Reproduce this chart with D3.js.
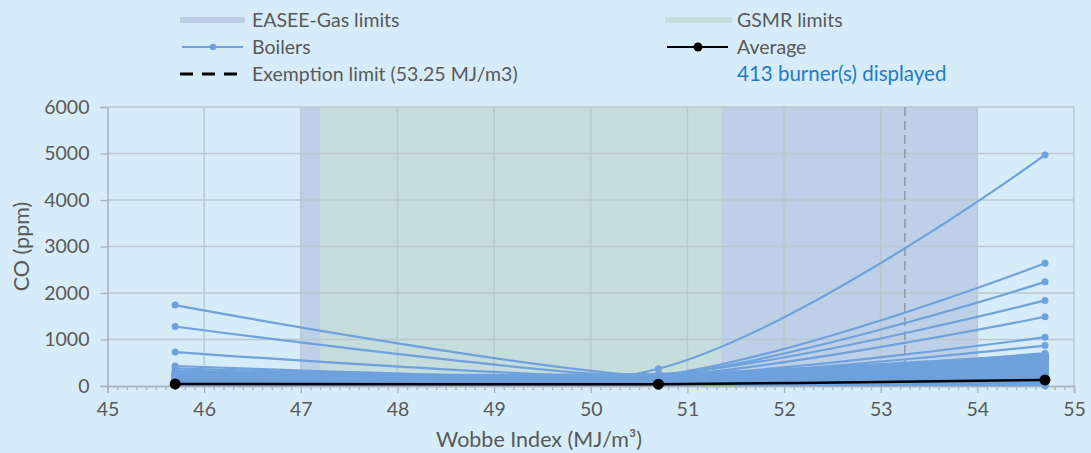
<!DOCTYPE html>
<html>
<head>
<meta charset="utf-8">
<script src="https://cdn.jsdelivr.net/npm/d3@7"></script>
<style>
  html, body { margin: 0; padding: 0; background: #d6ecf8; }
  svg { display: block; font-family: Lato, "Open Sans", sans-serif; }
</style>
</head>
<body>
<svg id="chart" width="1091" height="453"></svg>
<script>
// Wobbe index test points (MJ/m³)
const wobbePoints = [45.7, 50.7, 54.7];

// CO emissions per boiler at each test point (ppm)
const boilerCO = [
  [1740, 190, 560], [1280, 170, 470], [730, 160, 400], [430, 150, 330],
  [380, 140, 300], [330, 130, 280], [60, 370, 4970], [120, 220, 2640],
  [90, 210, 2240], [150, 230, 1840], [100, 200, 1490], [80, 190, 1050],
  [70, 180, 870], [110, 200, 700], [290, 160, 680], [270, 150, 665],
  [250, 140, 650], [240, 135, 640], [230, 130, 625], [220, 125, 610],
  [210, 120, 600], [200, 115, 585], [190, 110, 570], [180, 105, 555],
  [170, 100, 540], [160, 95, 520], [150, 90, 505], [140, 85, 490],
  [130, 80, 470], [120, 75, 455], [110, 70, 440], [100, 65, 420],
  [95, 60, 400], [90, 56, 385], [85, 52, 365], [80, 48, 345],
  [75, 45, 330], [70, 42, 310], [65, 38, 290], [60, 35, 270],
  [55, 33, 250], [50, 30, 235], [45, 28, 215], [40, 25, 195],
  [35, 22, 175], [30, 20, 160], [25, 18, 140], [20, 15, 120],
  [15, 12, 100], [12, 10, 80], [10, 8, 60], [8, 6, 40],
  [5, 4, 20], [3, 2, 5], [260, 240, 340], [210, 250, 380],
  [180, 230, 500], [140, 240, 560], [300, 210, 620], [120, 220, 660],
  [200, 250, 690], [160, 260, 600], [240, 230, 450]
];

// Average CO across all boilers (ppm)
const averageCO = [45, 40, 130];

// Regulatory Wobbe ranges (MJ/m³)
const easeeLimits = [47.0, 54.0];
const gsmrLimits = [47.2, 51.35];
const exemptionLimit = 53.25;

const xTicks = [45, 46, 47, 48, 49, 50, 51, 52, 53, 54, 55];
const yTicks = [0, 1000, 2000, 3000, 4000, 5000, 6000];

const svg = d3.select("#chart");
const x = d3.scaleLinear().domain([45, 55]).range([107.5, 1074]);
const y = d3.scaleLinear().domain([0, 6000]).range([386, 107]);

const textColor = "#595959";
const gridColor = "#bcc8cf";
const boilerColor = "#6fa1dc";
const fontFamily = "Lato, 'Open Sans', sans-serif";

// Plot-area clip so smoothed curves stay inside the axes
svg.append("defs").append("clipPath").attr("id", "plot-clip")
  .append("rect")
  .attr("x", x(45)).attr("y", y(6000) - 6)
  .attr("width", x(55) - x(45) + 6)
  .attr("height", y(0) - y(6000) + 6);

// Limit bands
svg.append("rect")
  .attr("x", x(easeeLimits[0])).attr("y", y(6000))
  .attr("width", x(easeeLimits[1]) - x(easeeLimits[0]))
  .attr("height", y(0) - y(6000))
  .attr("fill", "#bdd0e7");
svg.append("rect")
  .attr("x", x(gsmrLimits[0])).attr("y", y(6000))
  .attr("width", x(gsmrLimits[1]) - x(gsmrLimits[0]))
  .attr("height", y(0) - y(6000))
  .attr("fill", "#c5dddd");

// Gridlines
const grid = svg.append("g");
grid.selectAll("line.h").data(yTicks.slice(1)).join("line")
  .attr("x1", x(45)).attr("x2", x(55))
  .attr("y1", d => y(d)).attr("y2", d => y(d))
  .attr("stroke", gridColor).attr("stroke-width", 1.5);
grid.selectAll("line.v").data(xTicks.slice(1)).join("line")
  .attr("x1", d => x(d)).attr("x2", d => x(d))
  .attr("y1", y(6000)).attr("y2", y(0))
  .attr("stroke", gridColor).attr("stroke-width", 1.5);

// Exemption limit
svg.append("line")
  .attr("x1", x(exemptionLimit)).attr("x2", x(exemptionLimit))
  .attr("y1", y(6000)).attr("y2", y(0))
  .attr("stroke", "#8d99a6").attr("stroke-width", 1.5)
  .attr("stroke-dasharray", "9,5");

// Axes
const minorTicks = d3.range(451, 550).map(v => v / 10)
  .filter(v => Math.abs(v - Math.round(v)) > 1e-6);
const xAxis = svg.append("g").attr("transform", `translate(0,${y(0)})`)
  .call(d3.axisBottom(x).tickValues(xTicks).tickSize(7).tickPadding(9).tickFormat(d3.format("d")));
const xMinor = svg.append("g").attr("transform", `translate(0,${y(0)})`)
  .call(d3.axisBottom(x).tickValues(minorTicks).tickSize(4).tickFormat(""));
const yAxis = svg.append("g").attr("transform", `translate(${x(45)},0)`)
  .call(d3.axisLeft(y).tickValues(yTicks).tickSize(7).tickPadding(8).tickFormat(d3.format("d")));

[xAxis, xMinor, yAxis].forEach(g => {
  g.select(".domain").attr("stroke", "#a9b3ba").attr("stroke-width", 1.5);
  g.selectAll(".tick line").attr("stroke", "#a9b3ba").attr("stroke-width", 1.3);
  g.selectAll("text").attr("fill", textColor).attr("font-size", 19.5)
    .attr("font-family", fontFamily);
});
yAxis.selectAll("text").attr("dx", -3);

// Boiler curves
const line = d3.line()
  .x((d, i) => x(wobbePoints[i]))
  .y(d => y(d))
  .curve(d3.curveCatmullRom.alpha(0));

const plot = svg.append("g").attr("clip-path", "url(#plot-clip)");
const boilers = plot.append("g");
boilers.selectAll("path").data(boilerCO).join("path")
  .attr("d", line)
  .attr("fill", "none")
  .attr("stroke", boilerColor)
  .attr("stroke-width", 2.2);
svg.append("g").selectAll("g").data(boilerCO).join("g")
  .selectAll("circle").data(d => d).join("circle")
  .attr("cx", (d, i) => x(wobbePoints[i]))
  .attr("cy", d => y(d))
  .attr("r", 3.5)
  .attr("fill", boilerColor);

// Average curve
plot.append("path")
  .datum(averageCO)
  .attr("d", line)
  .attr("fill", "none")
  .attr("stroke", "#000").attr("stroke-width", 2.5);
svg.selectAll("circle.avg").data(averageCO).join("circle")
  .attr("class", "avg")
  .attr("cx", (d, i) => x(wobbePoints[i]))
  .attr("cy", d => y(d))
  .attr("r", 5.5).attr("fill", "#000");

// Axis titles
svg.append("text")
  .attr("x", 539).attr("y", 447)
  .attr("text-anchor", "middle")
  .attr("font-size", 21.5).attr("fill", textColor)
  .text("Wobbe Index (MJ/m³)");
svg.append("text")
  .attr("transform", `translate(29,${(y(0) + y(6000)) / 2}) rotate(-90)`)
  .attr("text-anchor", "middle")
  .attr("font-size", 21.5).attr("fill", textColor)
  .text("CO (ppm)");

// Legend
const legend = svg.append("g").attr("font-size", 19.5).attr("fill", textColor);
const rowY = [20, 47, 74];
const colX = [180, 665];
const textX = [252, 737];

legend.append("line").attr("x1", colX[0]).attr("x2", colX[0] + 65)
  .attr("y1", rowY[0]).attr("y2", rowY[0])
  .attr("stroke", "#bccde6").attr("stroke-width", 6);
legend.append("line").attr("x1", colX[1]).attr("x2", colX[1] + 67)
  .attr("y1", rowY[0]).attr("y2", rowY[0])
  .attr("stroke", "#c3dcdc").attr("stroke-width", 6);

legend.append("line").attr("x1", colX[0] + 2).attr("x2", colX[0] + 63)
  .attr("y1", rowY[1]).attr("y2", rowY[1])
  .attr("stroke", boilerColor).attr("stroke-width", 2);
legend.append("circle").attr("cx", colX[0] + 33).attr("cy", rowY[1]).attr("r", 3.2).attr("fill", boilerColor);

legend.append("line").attr("x1", colX[1] + 2).attr("x2", colX[1] + 63)
  .attr("y1", rowY[1]).attr("y2", rowY[1])
  .attr("stroke", "#000").attr("stroke-width", 2);
legend.append("circle").attr("cx", colX[1] + 33).attr("cy", rowY[1]).attr("r", 4.5).attr("fill", "#000");

legend.append("line").attr("x1", colX[0]).attr("x2", colX[0] + 65)
  .attr("y1", rowY[2]).attr("y2", rowY[2])
  .attr("stroke", "#000").attr("stroke-width", 3)
  .attr("stroke-dasharray", "13,9");

const labels = [
  ["EASEE-Gas limits", textX[0], rowY[0], textColor, 19.5],
  ["GSMR limits", textX[1], rowY[0], textColor, 19.5],
  ["Boilers", textX[0], rowY[1], textColor, 19.5],
  ["Average", textX[1], rowY[1], textColor, 19.5],
  ["Exemption limit (53.25 MJ/m3)", textX[0], rowY[2], textColor, 19.5],
  ["413 burner(s) displayed", textX[1], rowY[2], "#1f7bcc", 20.5]
];
legend.selectAll("text").data(labels).join("text")
  .attr("x", d => d[1]).attr("y", d => d[2])
  .attr("dy", "0.35em")
  .attr("fill", d => d[3])
  .attr("font-size", d => d[4])
  .text(d => d[0]);
</script>
</body>
</html>
